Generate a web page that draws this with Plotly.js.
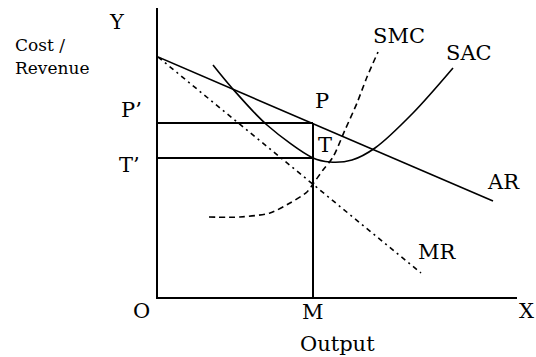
<!DOCTYPE html>
<html>
<head>
<meta charset="utf-8">
<script src="https://cdn.plot.ly/plotly-3.0.1.min.js"></script>
<style>html,body{margin:0;padding:0;background:#fff;}#chart{width:536px;height:357px;}</style>
</head>
<body>
<div id="chart"></div>
<script>
// Curve data (Output on x, Cost/Revenue on y)
const arX = [0, 33.5];
const arY = [24.0, 9.6];
const mrX = [0, 26.3];
const mrY = [24.0, 2.4];
const sacX = [5.5, 7.4, 10.9, 15.5, 17.2, 19.4, 21.7, 25.5, 29.5];
const sacY = [23.2, 20.9, 17.2, 13.9, 13.5, 13.7, 14.9, 18.4, 22.9];
const smcX = [5.1, 8.2, 11.2, 13.2, 14.9, 15.5, 16.5, 17.5, 18.7, 19.9, 20.9, 22.0];
const smcY = [8.0, 8.0, 8.4, 9.4, 10.5, 11.3, 12.7, 14.0, 16.7, 19.4, 22.0, 24.5];
// Equilibrium output M, price P, average cost T
const outputM = 15.5;
const priceP = 17.4;
const costT = 13.9;

const xRange = [0, 35.9];
const yRange = [0, 28.9];

const black = '#000';
const traces = [
  {x: arX, y: arY, mode: 'lines', line: {color: black, width: 1.6}},
  {x: mrX, y: mrY, mode: 'lines', line: {color: black, width: 1.6, dash: '5px,4px,2px,4px'}},
  {x: sacX, y: sacY, mode: 'lines', line: {color: black, width: 1.6, shape: 'spline', smoothing: 0.9}},
  {x: smcX, y: smcY, mode: 'lines', line: {color: black, width: 1.6, shape: 'spline', smoothing: 0.8, dash: '6px,4px'}},
  {x: [0, outputM], y: [priceP, priceP], mode: 'lines', line: {color: black, width: 2}},
  {x: [0, outputM], y: [costT, costT], mode: 'lines', line: {color: black, width: 2}},
  {x: [outputM, outputM], y: [0, priceP], mode: 'lines', line: {color: black, width: 2}}
];

const big = {family: 'DejaVu Serif', size: 21, color: black};
const small = {family: 'DejaVu Serif', size: 17, color: black};
// labels placed in chart units, converted to paper fractions so they may sit outside the axes
function lab(text, x, y, font, xanchor) {
  return {text: text,
          x: (x - xRange[0]) / (xRange[1] - xRange[0]),
          y: (y - yRange[0]) / (yRange[1] - yRange[0]),
          xref: 'paper', yref: 'paper', showarrow: false, font: font,
          xanchor: xanchor || 'center', yanchor: 'middle'};
}
const annotations = [
  lab('Y', -4.1, 27.5, big),
  lab('Cost /', -14.5, 25.2, small, 'left'),
  lab('Revenue', -14.5, 22.9, small, 'left'),
  lab('P\u2019', -2.7, 18.7, big),
  lab('T\u2019', -2.9, 13.2, big),
  lab('P', 16.4, 19.6, big),
  lab('T', 16.7, 15.2, big),
  lab('SMC', 24.1, 26.1, big),
  lab('SAC', 31.1, 24.4, big),
  lab('AR', 34.5, 11.5, big),
  lab('MR', 27.9, 4.5, big),
  lab('O', -1.7, -1.4, big),
  lab('M', outputM, -1.5, big),
  lab('X', 36.8, -1.4, big),
  lab('Output', 17.9, -4.7, big)
];

const layout = {
  width: 536, height: 357,
  margin: {l: 158, r: 19, t: 8, b: 60},
  paper_bgcolor: '#fff', plot_bgcolor: '#fff',
  showlegend: false,
  xaxis: {range: xRange, showgrid: false, zeroline: false, showticklabels: false, ticks: '',
          showline: true, linecolor: black, linewidth: 2, fixedrange: true},
  yaxis: {range: yRange, showgrid: false, zeroline: false, showticklabels: false, ticks: '',
          showline: true, linecolor: black, linewidth: 2, fixedrange: true},
  annotations: annotations
};
Plotly.newPlot('chart', traces, layout, {staticPlot: true});
</script>
</body>
</html>
